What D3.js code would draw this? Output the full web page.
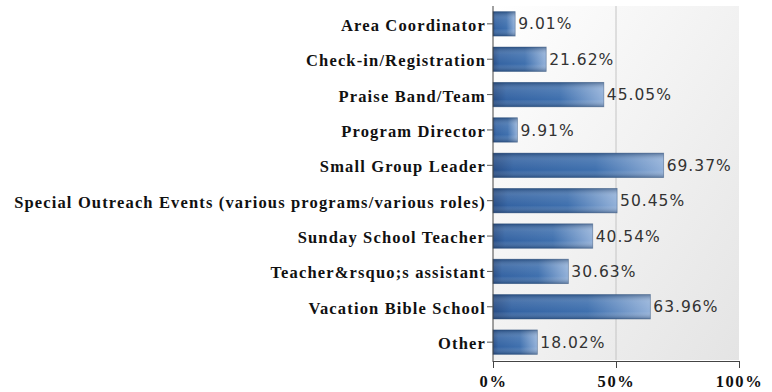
<!DOCTYPE html>
<html>
<head>
<meta charset="utf-8">
<script src="https://cdn.jsdelivr.net/npm/d3@7"></script>
<style>
  html, body { margin: 0; padding: 0; background: #fff; }
  svg { display: block; }
</style>
</head>
<body>
<svg id="chart" width="772" height="392"></svg>
<script>
// Volunteer roles and the share of respondents in each
const categories = [
  "Area Coordinator",
  "Check-in/Registration",
  "Praise Band/Team",
  "Program Director",
  "Small Group Leader",
  "Special Outreach Events (various programs/various roles)",
  "Sunday School Teacher",
  "Teacher&rsquo;s assistant",
  "Vacation Bible School",
  "Other"
];
const values = [9.01, 21.62, 45.05, 9.91, 69.37, 50.45, 40.54, 30.63, 63.96, 18.02];
const xTicks = [0, 50, 100];

const svg = d3.select("#chart");
const margin = { top: 6, right: 33, bottom: 32, left: 493 };
const width = 772 - margin.left - margin.right;
const height = 392 - margin.top - margin.bottom;

const defs = svg.append("defs");

// soft grey wash behind the plot
const bg = defs.append("linearGradient").attr("id", "plotBg")
  .attr("x1", "0%").attr("y1", "0%").attr("x2", "100%").attr("y2", "100%");
bg.append("stop").attr("offset", "0%").attr("stop-color", "#ffffff");
bg.append("stop").attr("offset", "100%").attr("stop-color", "#e4e4e4");

// bar fill: deep blue fading to pale blue at the tip
const barGrad = defs.append("linearGradient").attr("id", "barFill")
  .attr("x1", "0%").attr("y1", "0%").attr("x2", "100%").attr("y2", "0%");
barGrad.append("stop").attr("offset", "0%").attr("stop-color", "#284d85");
barGrad.append("stop").attr("offset", "12%").attr("stop-color", "#3564a3");
barGrad.append("stop").attr("offset", "60%").attr("stop-color", "#3f70ae");
barGrad.append("stop").attr("offset", "100%").attr("stop-color", "#93b1d9");

// vertical shading for a rounded look
const shade = defs.append("linearGradient").attr("id", "barShade")
  .attr("x1", "0%").attr("y1", "0%").attr("x2", "0%").attr("y2", "100%");
shade.append("stop").attr("offset", "0%").attr("stop-color", "#0d2547").attr("stop-opacity", 0.4);
shade.append("stop").attr("offset", "30%").attr("stop-color", "#ffffff").attr("stop-opacity", 0.1);
shade.append("stop").attr("offset", "70%").attr("stop-color", "#ffffff").attr("stop-opacity", 0);
shade.append("stop").attr("offset", "100%").attr("stop-color", "#0d2547").attr("stop-opacity", 0.4);

const g = svg.append("g").attr("transform", `translate(${margin.left},${margin.top})`);

const x = d3.scaleLinear().domain([0, 100]).range([0, width]);
const y = d3.scaleBand().domain(categories).range([0, height]).paddingInner(0.31).paddingOuter(0.16);

g.append("rect").attr("x", 0).attr("y", 0).attr("width", width).attr("height", height)
  .attr("fill", "url(#plotBg)");

// gridline at 50%
g.append("line")
  .attr("x1", x(50)).attr("x2", x(50)).attr("y1", 0).attr("y2", height)
  .attr("stroke", "#c4c4c4").attr("stroke-width", 1);

const data = categories.map((c, i) => ({ c, v: values[i] }));

const bars = g.selectAll("g.bar").data(data).join("g").attr("class", "bar");
bars.append("rect")
  .attr("x", 0).attr("y", d => y(d.c))
  .attr("width", d => x(d.v)).attr("height", y.bandwidth())
  .attr("fill", "url(#barFill)");
bars.append("rect")
  .attr("x", 0).attr("y", d => y(d.c))
  .attr("width", d => x(d.v)).attr("height", y.bandwidth())
  .attr("fill", "url(#barShade)")
  .attr("stroke", "#34537c").attr("stroke-opacity", 0.55).attr("stroke-width", 0.8);

bars.append("text")
  .attr("x", d => x(d.v) + 3)
  .attr("y", d => y(d.c) + y.bandwidth() / 2)
  .attr("dy", "0.36em")
  .attr("font-family", "DejaVu Sans, Verdana, sans-serif")
  .attr("font-size", 15.5)
  .attr("letter-spacing", 1)
  .attr("fill", "#333")
  .text(d => d.v.toFixed(2) + "%");

const labelFont = sel => sel
  .attr("font-family", "Liberation Serif, Times New Roman, serif")
  .attr("font-weight", "bold")
  .attr("font-size", 16.5)
  .attr("letter-spacing", 1.15)
  .attr("fill", "#111");

// category axis
const yAxis = g.append("g").call(d3.axisLeft(y).tickSize(6).tickPadding(1));
yAxis.select(".domain").attr("stroke", "#444").attr("d", `M0,0V${height + 2}`);
yAxis.selectAll(".tick line").attr("stroke", "#555");
yAxis.selectAll("text").call(labelFont).attr("dy", "0.42em");

// value axis
const xAxis = g.append("g").attr("transform", `translate(0,${height + 1})`)
  .call(d3.axisBottom(x).tickValues(xTicks).tickFormat(d => d + "%").tickSize(7).tickSizeOuter(0).tickPadding(7));
xAxis.select(".domain").attr("stroke", "#444");
xAxis.selectAll(".tick line").attr("stroke", "#444");
xAxis.selectAll("text").call(labelFont).attr("letter-spacing", 1.6);
</script>
</body>
</html>
